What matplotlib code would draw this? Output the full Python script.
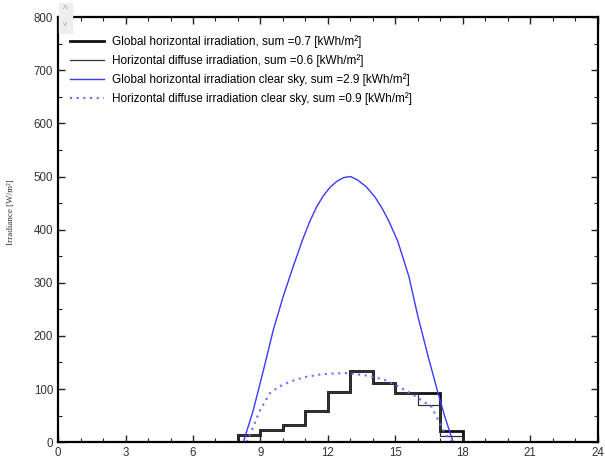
import matplotlib
matplotlib.use("Agg")
import matplotlib.pyplot as plt
from matplotlib.patches import Rectangle
from matplotlib.ticker import MultipleLocator

plt.rcParams['font.family'] = ['Liberation Sans', 'DejaVu Sans']

# hourly step data (hour edges 8..18)
edges = [8, 9, 10, 11, 12, 13, 14, 15, 16, 17, 18]
global_h = [13, 22, 32, 59, 94, 134, 112, 92, 93, 21]
diffuse_h = [13, 22, 32, 59, 94, 134, 112, 92, 70, 12]

# clear sky curves
cs_hours = [8.24, 8.68, 9.13, 9.57, 10.01, 10.46, 10.9, 11.2, 11.5, 11.8, 12.1, 12.4,
            12.7, 13.0, 13.3, 13.7, 14.1, 14.4, 14.7, 15.1, 15.6, 16.0, 16.46, 16.9, 17.2, 17.57]
cs_global = [0, 60, 135, 211, 274, 331, 384, 416, 443, 464, 480, 491,
             498, 500, 494, 481, 461, 441, 417, 379, 312, 237, 161, 92, 48, 0]

cd_hours = [8.39, 8.68, 8.98, 9.42, 9.8, 10.16, 10.6, 11.05, 11.6, 12.09, 12.83, 13.64, 14.1, 14.53,
            15.0, 15.42, 15.8, 16.16, 16.6, 16.9, 17.2, 17.5]
cd_diffuse = [0, 29, 60, 92, 104, 111, 118, 123, 127, 129, 130, 126, 122, 117,
              108, 98, 89, 79, 67, 42, 17, 0]

labels = ["Global horizontal irradiation, sum =0.7 [kWh/m²]",
          "Horizontal diffuse irradiation, sum =0.6 [kWh/m²]",
          "Global horizontal irradiation clear sky, sum =2.9 [kWh/m²]",
          "Horizontal diffuse irradiation clear sky, sum =0.9 [kWh/m²]"]

fig = plt.figure(figsize=(6.05, 4.63), dpi=100)
ax = fig.add_axes([0.096, 0.045, 0.892, 0.918])

ax.stairs(global_h, edges, baseline=0, color='#111111', lw=2.0, label=labels[0])
ax.stairs(diffuse_h, edges, baseline=0, color='#333333', lw=0.9, label=labels[1])
ax.plot(cs_hours, cs_global, color='#3a3aff', lw=1.0, label=labels[2])
ax.plot(cd_hours, cd_diffuse, color='#6a6aff', lw=1.5, ls=(0, (1, 2.2)), label=labels[3])

ax.set_xlim(0, 24)
ax.set_ylim(0, 800)
ax.xaxis.set_major_locator(MultipleLocator(3))
ax.xaxis.set_minor_locator(MultipleLocator(1))
ax.yaxis.set_major_locator(MultipleLocator(100))
ax.yaxis.set_minor_locator(MultipleLocator(50))
ax.tick_params(which='both', direction='in', top=True, right=True, colors='#222222',
               labelcolor='#333333', labelsize=8.3)
ax.tick_params(which='major', length=5, width=1)
ax.tick_params(which='minor', length=3, width=0.8)
for s in ax.spines.values():
    s.set_linewidth(1.6)

ax.set_ylabel("Irradiance [W/m²]", family=['Liberation Serif', 'DejaVu Serif'],
              fontsize=6.5, color='#333333')
ax.yaxis.set_label_coords(-0.08, 0.54)

ax.legend(loc='upper left', bbox_to_anchor=(0.022, 0.957), frameon=False, fontsize=8.5,
          handlelength=2.9, handletextpad=0.65, labelspacing=0.52, borderaxespad=0,
          borderpad=0)

# little scroll widget at top-left corner
fig.patches.append(Rectangle((59 / 605, 1 - 33 / 463), 13 / 605, 30 / 463,
                             transform=fig.transFigure, color='#eeeeee', zorder=0))
fig.text(65.5 / 605, 1 - 10 / 463, "^", ha='center', va='center', fontsize=7, color='#aaaaaa')
fig.text(65.5 / 605, 1 - 25 / 463, "v", ha='center', va='center', fontsize=6, color='#aaaaaa')

fig.savefig("out.png", dpi=100)
